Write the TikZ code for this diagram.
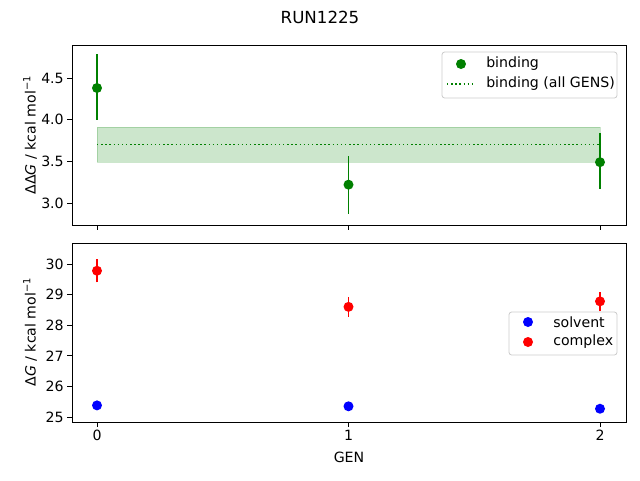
\documentclass[tikz,border=0pt]{standalone}
\usepackage{fontspec}
\setmainfont{DejaVu Sans}
\begin{document}
\begin{tikzpicture}[x=0.75pt,y=-0.75pt,
  declare function={ty(\v)=78+(4.5-\v)*83.33; by(\v)=264+(30-\v)*30.6; gx(\g)=97+\g*251.5;},
  every node/.style={font=\fontsize{10.6}{12}\selectfont, inner sep=0pt},
  ax/.style={line width=0.6pt},
  tk/.style={line width=0.6pt},
  err/.style={line width=1.1pt},
  dots/.style={line width=1.1pt, dash pattern=on 1.1pt off 2pt}]
\useasboundingbox (0,0) rectangle (640,480);
\definecolor{mgreen}{RGB}{0,128,0}
\node[font=\fontsize{12.5}{14}\selectfont] (title) at (320,17) {RUN1225};
% top axes
\fill[mgreen,opacity=0.2] ({gx(0)},{ty(3.91)}) rectangle ({gx(2)},{ty(3.49)});
\draw[mgreen,opacity=0.2] ({gx(0)},{ty(3.91)}) rectangle ({gx(2)},{ty(3.49)});
\draw[mgreen,dots] ({gx(0)},{ty(3.70)}) -- ({gx(2)},{ty(3.70)});
\foreach \g/\v/\lo/\hi in {0/4.38/4.0/4.79, 1/3.22/2.87/3.56, 2/3.49/3.17/3.84}{
  \draw[err,mgreen] ({gx(\g)},{ty(\lo)}) -- ({gx(\g)},{ty(\hi)});
  \fill[mgreen] ({gx(\g)},{ty(\v)}) circle (5);
}
\draw[ax] (72,45) rectangle (626,225);
\foreach \v in {3.0,3.5,4.0,4.5}{
  \draw[tk] (72,{ty(\v)}) -- (67,{ty(\v)});
  \node[anchor=east] at (64,{ty(\v)}) {\v};
}
\foreach \g in {0,1,2}{ \draw[tk] ({gx(\g)},225) -- ({gx(\g)},230); }
\node[rotate=90] (ylab1) at (30,135) {ΔΔ\textit{G} / kcal mol\textsuperscript{−1}};
% legend top
\draw[line width=0.6pt,black!20,fill=white,rounded corners=2] (442,52) rectangle (617,98);
\fill[mgreen] (461,64) circle (5);
\node[anchor=west] (l1) at (486,64) {binding};
\draw[mgreen,dots] (447,84) -- (475,84);
\node[anchor=west] (l2) at (486,84) {binding (all GENS)};
% bottom axes
\foreach \g/\v/\lo/\hi in {0/29.78/29.4/30.15, 1/28.6/28.27/28.93, 2/28.78/28.45/29.08}{
  \draw[err,red] ({gx(\g)},{by(\lo)}) -- ({gx(\g)},{by(\hi)});
  \fill[red] ({gx(\g)},{by(\v)}) circle (5);
}
\foreach \g/\v/\lo/\hi in {0/25.38/25.3/25.46, 1/25.35/25.22/25.5, 2/25.27/25.15/25.4}{
  \draw[err,blue] ({gx(\g)},{by(\lo)}) -- ({gx(\g)},{by(\hi)});
  \fill[blue] ({gx(\g)},{by(\v)}) circle (5);
}
\draw[ax] (72,243) rectangle (626,422);
\foreach \v in {25,...,30}{
  \draw[tk] (72,{by(\v)}) -- (67,{by(\v)});
  \node[anchor=east] at (64,{by(\v)}) {\v};
}
\foreach \g in {0,1,2}{
  \draw[tk] ({gx(\g)},422) -- ({gx(\g)},427);
  \node[anchor=north] at ({gx(\g)},430) {\g};
}
\node[rotate=90] (ylab2) at (30,332) {Δ\textit{G} / kcal mol\textsuperscript{−1}};
\node (xlab) at (349,457) {GEN};
% legend bottom
\draw[line width=0.6pt,black!20,fill=white,rounded corners=2] (509,312) rectangle (617,355);
\fill[blue] (528,322) circle (5);
\node[anchor=west] (l3) at (553,322) {solvent};
\fill[red] (528,342) circle (5);
\node[anchor=west] (l4) at (553,342) {complex};
\end{tikzpicture}
\end{document}
